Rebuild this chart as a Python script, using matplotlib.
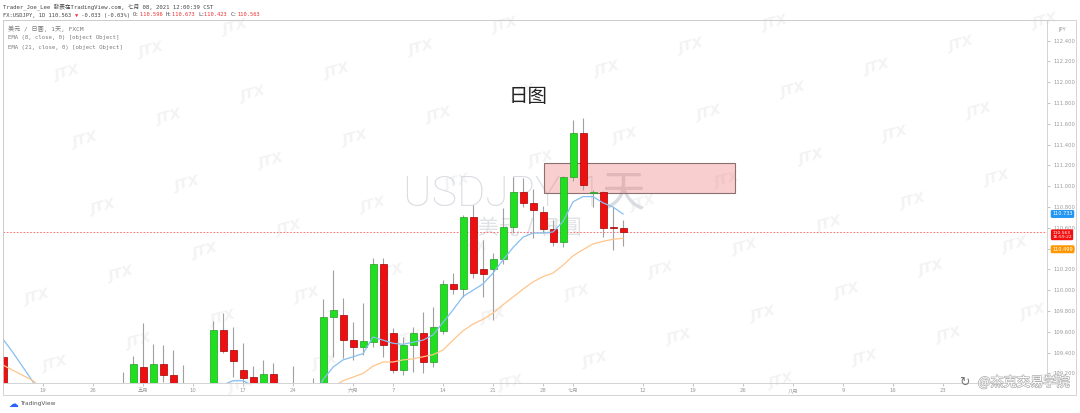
import numpy as np
import pandas as pd
import matplotlib
matplotlib.use('Agg')
import matplotlib.pyplot as plt
from matplotlib.patches import Rectangle
from matplotlib.transforms import blended_transform_factory
import matplotlib.patheffects as pe

# ---- data (USDJPY daily) ----
dates = pd.bdate_range('2021-04-13', '2021-07-08')

opens = [109.36, 109.07, 108.90, 108.75,
         108.75, 108.15, 108.10, 108.05, 107.95,
         107.60, 107.95, 108.65, 108.60, 108.95,
         109.26, 108.95, 109.29, 109.185, 109.05,
         108.58, 108.80, 108.65, 109.617, 109.425,
         109.23, 109.165, 108.90, 109.19, 108.75,
         108.90, 108.75, 108.75, 109.05, 109.74,
         109.76, 109.52, 109.455, 109.50, 110.25,
         109.59, 109.23, 109.47, 109.59, 109.31,
         109.61, 110.06, 110.01, 110.70, 110.20,
         110.20, 110.30, 110.61, 110.94, 110.84,
         110.75, 110.59, 110.46, 111.09, 111.51,
         110.93, 110.944, 110.61, 110.596]
highs = [109.37, 109.10, 109.05, 108.95,
         108.90, 108.40, 108.30, 108.10, 108.00,
         108.10, 108.70, 108.90, 109.21, 109.37,
         109.685, 109.48, 109.47, 109.425, 109.28,
         108.90, 109.05, 109.70, 109.78, 109.65,
         109.49, 109.27, 109.33, 109.30, 109.00,
         109.27, 108.95, 109.16, 109.915, 110.19,
         109.93, 109.69, 109.877, 110.31, 110.31,
         109.64, 109.55, 109.65, 109.79, 109.84,
         110.10, 110.165, 110.72, 110.82, 110.48,
         110.36, 110.79, 111.09, 111.08, 110.97,
         110.81, 110.675, 111.10, 111.64, 111.655,
         110.96, 110.95, 110.80, 110.673]
lows = [108.95, 108.75, 108.60, 108.60,
        108.10, 107.95, 107.90, 107.80, 107.50,
        107.50, 107.90, 108.50, 108.55, 108.90,
        108.98, 108.90, 109.12, 108.95, 108.35,
        108.35, 108.60, 108.60, 109.396, 109.165,
        108.95, 108.80, 108.80, 108.70, 108.60,
        108.70, 108.55, 108.70, 108.95, 109.36,
        109.35, 109.33, 109.38, 109.45, 109.36,
        109.20, 109.185, 109.21, 109.20, 109.26,
        109.58, 109.96, 109.935, 110.12, 109.935,
        109.71, 110.25, 110.55, 110.80, 110.50,
        110.55, 110.425, 110.415, 111.05, 110.96,
        110.80, 110.51, 110.39, 110.423]
closes = [109.07, 108.90, 108.75, 108.80,
          108.15, 108.10, 108.05, 107.95, 107.60,
          107.95, 108.65, 108.60, 108.95, 109.29,
          109.05, 109.29, 109.185, 109.05, 108.58,
          108.80, 108.65, 109.617, 109.415, 109.32,
          109.156, 108.90, 109.19, 108.75, 108.95,
          108.75, 108.75, 109.05, 109.74, 109.81,
          109.52, 109.455, 109.51, 110.25, 109.47,
          109.23, 109.47, 109.59, 109.31, 109.65,
          110.06, 110.01, 110.70, 110.165, 110.16,
          110.30, 110.61, 110.94, 110.84, 110.77,
          110.59, 110.46, 111.09, 111.51, 111.01,
          110.94, 110.60, 110.596, 110.563]
ema8 = [109.53, 109.40, 109.26, 109.12,
        108.90, 108.72, 108.57, 108.43, 108.25,
        108.18, 108.28, 108.35, 108.48, 108.66,
        108.75, 108.84, 108.92, 108.95, 108.87,
        108.85, 108.81, 108.99, 109.09, 109.13,
        109.13, 109.08, 109.10, 109.02, 109.01,
        108.95, 108.92, 108.94, 109.14, 109.26,
        109.33, 109.36, 109.39, 109.55, 109.52,
        109.49, 109.48, 109.50, 109.52, 109.57,
        109.69, 109.81, 109.94, 110.00, 110.06,
        110.165, 110.29, 110.41, 110.51, 110.55,
        110.55, 110.56, 110.66, 110.85, 110.90,
        110.90, 110.84, 110.80, 110.733]
ema21 = [109.28, 109.23, 109.18, 109.13,
         109.05, 108.96, 108.88, 108.80, 108.72,
         108.66, 108.66, 108.65, 108.68, 108.72,
         108.74, 108.76, 108.79, 108.81, 108.78,
         108.78, 108.78, 108.86, 108.92, 108.96,
         108.98, 108.97, 108.99, 108.97, 108.98,
         108.97, 108.95, 108.96, 109.02, 109.07,
         109.13, 109.165, 109.20, 109.27, 109.31,
         109.31, 109.33, 109.34, 109.36, 109.38,
         109.425, 109.52, 109.61, 109.675, 109.72,
         109.78, 109.86, 109.935, 110.01, 110.08,
         110.13, 110.165, 110.24, 110.33, 110.39,
         110.445, 110.47, 110.49, 110.499]

tick_dates = ['2021-04-19', '2021-04-26', '2021-05-03', '2021-05-10', '2021-05-17',
              '2021-05-24', '2021-06-01', '2021-06-07', '2021-06-14', '2021-06-21',
              '2021-06-28', '2021-07-01', '2021-07-12', '2021-07-19', '2021-07-26',
              '2021-08-02', '2021-08-09', '2021-08-16', '2021-08-23']
tick_labels = ['19', '26', '五月', '10', '17', '24', '六月', '7', '14', '21',
               '28', '七月', '12', '19', '26', '八月', '9', '16', '23']
price_ticks = [109.2, 109.4, 109.6, 109.8, 110.0, 110.2, 110.4, 110.6,
               110.8, 111.0, 111.2, 111.4, 111.6, 111.8, 112.0, 112.2, 112.4]

zone_start, zone_end = '2021-06-28', '2021-07-23'
zone_low, zone_high = 110.935, 111.223
change, change_pct = -0.033, -0.03

# ---- layout helpers (pixel coords of a 1080x413 image) ----
W, H = 1080, 413
fig = plt.figure(figsize=(W / 100, H / 100), dpi=100)
fig.patch.set_facecolor('white')
CJK = ['DejaVu Sans', 'Noto Sans CJK TC']
MONO = ['DejaVu Sans Mono', 'Noto Sans CJK TC']
plt.rcParams['font.family'] = CJK


def fx(px):
    return px / W


def fy(py):
    return 1 - py / H


def bidx(d):
    return np.busday_count(np.datetime64('2021-04-19'),
                           np.asarray(d, dtype='datetime64[D]'))


ax = fig.add_axes([fx(3), fy(383), fx(1047) - fx(3), fy(20) - fy(383)])
ax.set_facecolor('none')

x = bidx(dates.values.astype('datetime64[D]'))
o, h, l, c = map(np.array, (opens, highs, lows, closes))
up = c >= o

# candles
ax.vlines(x, l, h, color='#a0a0a0', lw=0.8, zorder=3)
body_lo = np.minimum(o, c)
body_h = np.maximum(np.abs(c - o), 0.006)
ax.bar(x, body_h, bottom=body_lo, width=0.7,
       color=np.where(up, '#1fe01f', '#ee1010'),
       edgecolor=np.where(up, '#2a9a2a', '#a00000'), lw=0.5, zorder=4)

# EMAs
ax.plot(x, ema8, color='#86bff0', lw=0.9, zorder=5)
ax.plot(x, ema21, color='#ffc58c', lw=0.9, zorder=5)

# zone box
zs, ze = bidx(zone_start), bidx(zone_end)
ax.add_patch(Rectangle((zs + 0.1, zone_low), ze - zs + 0.1, zone_high - zone_low,
                       facecolor=(0.94, 0.45, 0.45, 0.35), edgecolor='#8a7070',
                       lw=0.8, zorder=2))

# last price line
last = closes[-1]
ax.axhline(last, color='#ff5a5a', lw=0.6, ls=(0, (2, 2)), zorder=1.8)

# symbol watermark
ax.text(bidx('2021-06-14') + 8.1, 110.93, 'USDJPY, 1天', ha='center', va='center',
        fontsize=31, color='#d9dce1', zorder=1,
        family=['Roboto', 'Noto Sans CJK TC'], fontweight='light')
ax.text(bidx('2021-06-14') + 8.7, 110.60, '美元 / 日圓', ha='center', va='center',
        fontsize=15, color='#e0e2e6', zorder=1, family=CJK)

ax.set_xlim(-4.0, 100.4)
ax.set_ylim(109.108, 112.598)

ax.set_xticks(bidx(tick_dates))
ax.set_xticklabels(tick_labels)
ax.yaxis.tick_right()
ax.set_yticks(price_ticks)
ax.set_yticklabels(['%.3f' % p for p in price_ticks])
ax.tick_params(axis='both', labelsize=3.8, colors='#9a9a9a', length=2, width=0.4, pad=1.5)
ax.tick_params(axis='y', pad=2.5)
for s in ax.spines.values():
    s.set_color('#cccccc')
    s.set_linewidth(0.6)

# outer frame around axis strips
fig.add_artist(Rectangle((fx(3), fy(395)), fx(1076) - fx(3), fy(20) - fy(395),
                         transform=fig.transFigure, fill=False, ec='#cccccc', lw=0.6))

# price labels on the right scale
tr = blended_transform_factory(ax.transAxes, ax.transData)
for val, txt, bg, yoff, fs in [(ema8[-1], '%.3f' % ema8[-1], '#2196f3', 0, 3.6),
                               (last, '%.3f\n16:59:22' % last, '#f01010', -0.03, 3.2),
                               (ema21[-1], '%.3f' % ema21[-1], '#ff9800', -0.105, 3.6)]:
    ax.text(1.005, val + yoff, txt, transform=tr, fontsize=fs, color='white',
            ha='left', va='center', linespacing=1.05, zorder=10, clip_on=False,
            bbox=dict(boxstyle='round,pad=0.3', fc=bg, ec='none'))
fig.text(fx(1062), fy(29), 'JPY', fontsize=3.8, color='#9a9a9a', ha='center', va='center')

# title
fig.text(fx(528), fy(97), '日图', fontsize=14, color='#222222', ha='center', va='center',
         family=['Noto Sans CJK SC'], fontweight='medium')

# header lines
fig.text(fx(3), fy(7), 'Trader_Joe_Lee 發表在TradingView.com, 七月 08, 2021 12:00:39 CST',
         fontsize=4.1, color='#444444', va='center', family=MONO)
red = '#f03030'
dark = '#444444'
segs = [('FX:USDJPY, 1D %.3f ' % last, dark), ('▼', red),
        (' %.3f (%.2f%%) ' % (change, change_pct), dark),
        ('O:', dark), ('%.3f ' % opens[-1], red),
        ('H:', dark), ('%.3f ' % highs[-1], red),
        ('L:', dark), ('%.3f ' % lows[-1], red),
        ('C:', dark), ('%.3f' % closes[-1], red)]
renderer = fig.canvas.get_renderer()
cur = 3
for txt, col in segs:
    t = fig.text(fx(cur), fy(15), txt, fontsize=3.9, color=col, va='center', family=MONO)
    cur += t.get_window_extent(renderer).width

for i, txt in enumerate(['美元 / 日圓, 1天, FXCM', 'EMA (8, close, 0) [object Object]',
                         'EMA (21, close, 0) [object Object]']):
    fig.text(fx(8), fy(29 + i * 9), txt, fontsize=4.1 if i else 4.4, color='#7a7a7a',
             va='center', family=MONO)

# JTX tiled watermark
for i in range(-4, 14):
    for j in range(-6, 6):
        px = 37 + 84 * i + 18 * j
        py = 297 - 23 * i + 67 * j
        if 22 < px < W - 22 and 12 < py < H - 12:
            fig.text(fx(px), fy(py), 'JTX', fontsize=10, fontweight='bold', style='italic',
                     color='#f3f3f3', rotation=15, ha='center', va='center', zorder=-1)

# footer
fig.text(fx(8), fy(404), '☁', fontsize=7, color='#2962ff', va='center')
fig.text(fx(20), fy(404), 'TradingView', fontsize=4.2, color='#555555', va='center')
fig.text(fx(964), fy(382), '↻', fontsize=9, color='#777777', ha='center', va='center')
fig.text(fx(978), fy(382), '@杰克交易学院', fontsize=9.5, color='white', va='center',
         family=['Noto Sans CJK SC'],
         path_effects=[pe.withStroke(linewidth=1.0, foreground='#b0b0b0')])

fig.savefig('out.png', dpi=100)
